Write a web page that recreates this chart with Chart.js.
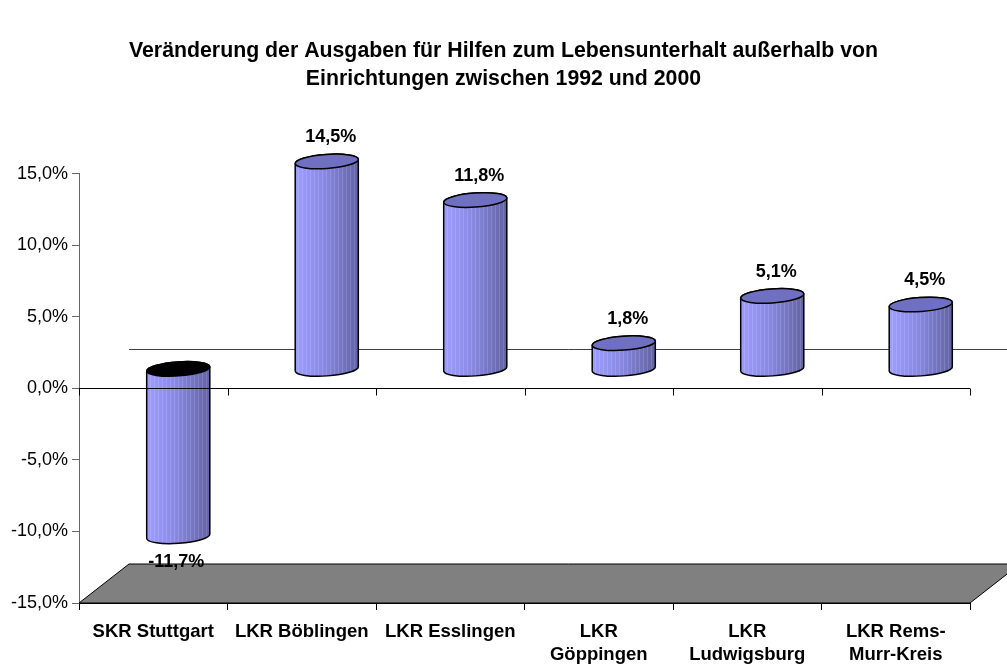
<!DOCTYPE html>
<html>
<head>
<meta charset="utf-8">
<script src="https://cdn.jsdelivr.net/npm/chart.js@4/dist/chart.umd.min.js"></script>
<style>
  html, body { margin: 0; padding: 0; background: #fff; }
  #wrap { width: 1007px; height: 666px; }
</style>
</head>
<body>
<div id="wrap"><canvas id="myChart"></canvas></div>
<script>
// Daten
const categories = [['SKR Stuttgart'], ['LKR Böblingen'], ['LKR Esslingen'], ['LKR', 'Göppingen'], ['LKR', 'Ludwigsburg'], ['LKR Rems-', 'Murr-Kreis']];
const values = [-11.7, 14.5, 11.8, 1.8, 5.1, 4.5];
const yMin = -15, yMax = 15, yStep = 5;
const titleLines = ['Veränderung der Ausgaben für Hilfen zum Lebensunterhalt außerhalb von', 'Einrichtungen zwischen 1992 und 2000'];

const DX = 50, DY = 39; // 3D Tiefe
const FONT = '"Liberation Sans", Arial, sans-serif';

function fmt(v) {
    return v.toFixed(1).replace('.', ',') + '%';
}

function bodyPath(ctx, cx, yTop, yBot, rx, ry, rot) {
    const sx = rx * Math.cos(rot), sy = rx * Math.sin(rot);
    ctx.beginPath();
    ctx.moveTo(cx - sx, yTop - sy);
    ctx.lineTo(cx - sx, yBot - sy);
    ctx.ellipse(cx, yBot, rx, ry, rot, Math.PI, 0, true);
    ctx.lineTo(cx + sx, yTop + sy);
    ctx.ellipse(cx, yTop, rx, ry, rot, 0, Math.PI, true);
    ctx.closePath();
}

function cylinder(ctx, cx, yTop, yBot, rx, ry, capColor) {
    const rot = -0.07;
    ctx.save();
    // Mantel
    bodyPath(ctx, cx, yTop, yBot, rx, ry, rot);
    const g = ctx.createLinearGradient(cx - rx, 0, cx + rx, 0);
    g.addColorStop(0, '#9e9eff');
    g.addColorStop(0.45, '#8989e4');
    g.addColorStop(1, '#6262a2');
    ctx.fillStyle = g;
    ctx.fill();
    ctx.save();
    ctx.clip();
    ctx.strokeStyle = 'rgba(255,255,255,0.14)';
    ctx.lineWidth = 1;
    for (let x = cx - rx + 3; x < cx + rx; x += 4) {
        ctx.beginPath();
        ctx.moveTo(Math.round(x) + 0.5, yTop - ry - 2);
        ctx.lineTo(Math.round(x) + 0.5, yBot + ry + 2);
        ctx.stroke();
    }
    ctx.restore();
    bodyPath(ctx, cx, yTop, yBot, rx, ry, rot);
    ctx.strokeStyle = '#000';
    ctx.lineWidth = 1.5;
    ctx.stroke();
    // Deckel
    ctx.beginPath();
    ctx.ellipse(cx, yTop, rx, ry, rot, 0, Math.PI * 2);
    ctx.fillStyle = capColor;
    ctx.fill();
    ctx.stroke();
    ctx.restore();
}

const cylPlugin = {
    id: 'cylPlugin',
    beforeDatasetsDraw(chart) {
        const ctx = chart.ctx;
        const a = chart.chartArea;
        const y = chart.scales.y;
        const yf = y.getPixelForValue(yMin);
        const y0 = y.getPixelForValue(0);
        ctx.save();
        // Boden
        ctx.beginPath();
        ctx.moveTo(a.left, yf);
        ctx.lineTo(a.right, yf);
        ctx.lineTo(a.right + DX, yf - DY);
        ctx.lineTo(a.left + DX, yf - DY);
        ctx.closePath();
        ctx.fillStyle = '#808080';
        ctx.fill();
        ctx.strokeStyle = '#000';
        ctx.lineWidth = 1;
        ctx.stroke();
        // Linie hinten bei 0
        ctx.beginPath();
        ctx.moveTo(a.left + DX, Math.round(y0 - DY) + 0.5);
        ctx.lineTo(a.right + DX, Math.round(y0 - DY) + 0.5);
        ctx.strokeStyle = '#404040';
        ctx.stroke();
        ctx.restore();
    },
    afterDatasetsDraw(chart) {
        const ctx = chart.ctx;
        const a = chart.chartArea;
        const x = chart.scales.x;
        const y = chart.scales.y;
        const meta = chart.getDatasetMeta(0);
        const y0 = y.getPixelForValue(0);
        const step = x.getPixelForValue(1) - x.getPixelForValue(0);
        const rx = step * 0.213, ry = 7;
        const cyls = [];
        meta.data.forEach(function(bar, i) {
            const v = values[i];
            const cx = bar.x + DX / 2;
            const yv = y.getPixelForValue(v) - DY / 2;
            const yz = y0 - DY / 2;
            const yTop = Math.min(yv, yz), yBot = Math.max(yv, yz);
            cylinder(ctx, cx, yTop, yBot, rx, ry, v < 0 ? '#000000' : '#7070c2');
            cyls.push({cx: cx, yTop: yTop, yBot: yBot, v: v});
        });
        // Nulllinie vorne mit Strichen
        ctx.save();
        ctx.strokeStyle = '#000';
        ctx.lineWidth = 1;
        const yy = Math.round(y0) + 0.5;
        ctx.beginPath();
        ctx.moveTo(a.left, yy);
        ctx.lineTo(a.right, yy);
        for (let i = 0; i <= categories.length; i++) {
            const px = Math.round(a.left + i * step) + 0.5;
            ctx.moveTo(px, yy);
            ctx.lineTo(px, yy + 7);
        }
        ctx.stroke();
        // Beschriftungen
        ctx.fillStyle = '#000';
        ctx.font = 'bold 18px ' + FONT;
        ctx.textAlign = 'center';
        ctx.textBaseline = 'middle';
        cyls.forEach(function(c) {
            if (c.v >= 0) {
                ctx.fillText(fmt(c.v), c.cx + 4, c.yTop - 24);
            } else {
                ctx.fillText(fmt(c.v), c.cx - 2, c.yBot + 26);
            }
        });
        ctx.restore();
    }
};

const ctx = document.getElementById('myChart').getContext('2d');
const myChart = new Chart(ctx, {
    type: 'bar',
    data: {
        labels: categories,
        datasets: [{
            data: values,
            backgroundColor: 'rgba(0,0,0,0)',
            borderWidth: 0
        }]
    },
    options: {
        responsive: true,
        maintainAspectRatio: false,
        animation: false,
        layout: { padding: 0 },
        plugins: {
            legend: { display: false },
            tooltip: { enabled: false },
            title: {
                display: true,
                text: titleLines,
                color: '#000',
                font: { family: FONT, size: 21.3, weight: 'bold', lineHeight: 1.333 },
                padding: { top: 37, bottom: 80 }
            }
        },
        scales: {
            x: {
                grid: { drawOnChartArea: false, color: '#000', tickLength: 7, offset: true },
                border: { color: '#000' },
                ticks: {
                    color: '#000',
                    font: { family: FONT, size: 18.5, weight: 'bold', lineHeight: 1.26 },
                    maxRotation: 0,
                    autoSkip: false,
                    padding: 10
                },
                afterFit: function(scale) { scale.height = 63; }
            },
            y: {
                min: yMin,
                max: yMax,
                grid: { drawOnChartArea: false, color: '#666', tickLength: 7 },
                border: { color: '#666' },
                ticks: {
                    stepSize: yStep,
                    color: '#000',
                    font: { family: FONT, size: 18 },
                    padding: 4,
                    callback: function(v) { return fmt(v); }
                },
                afterFit: function(scale) { scale.width = 79; }
            },
            // leerer Rand rechts, damit der Titel mittig bleibt
            r: {
                position: 'right',
                display: true,
                grid: { display: false, drawTicks: false },
                border: { display: false },
                ticks: { display: false },
                afterFit: function(scale) { scale.width = 37; }
            }
        }
    },
    plugins: [cylPlugin]
});
</script>
</body>
</html>
